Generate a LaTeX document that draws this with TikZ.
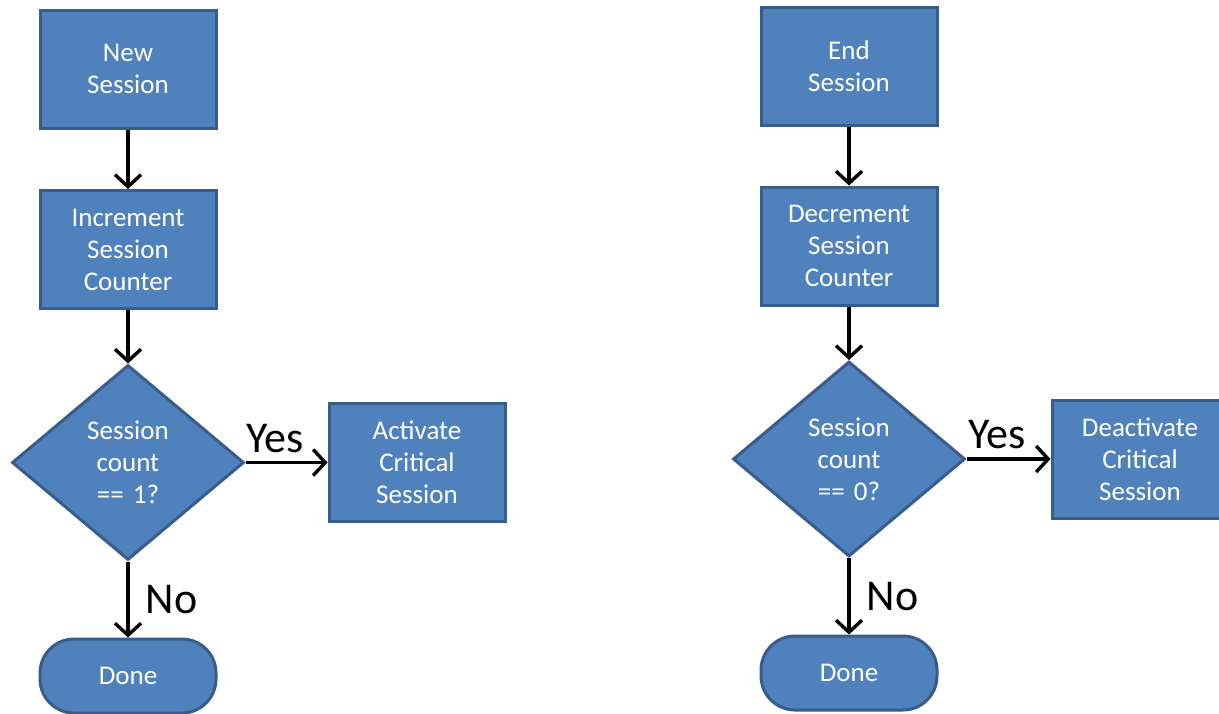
\documentclass[tikz,border=0pt]{standalone}
\usepackage{fontspec}
\setmainfont{Carlito}
\usetikzlibrary{arrows.meta,shapes.geometric}
\definecolor{boxfill}{HTML}{4F81BD}
\definecolor{boxedge}{HTML}{385D8A}
\begin{document}
\begin{tikzpicture}[x=0.5pt,y=-0.5pt,
  blk/.style={draw=boxedge, fill=boxfill, line width=1.5pt, text=white, align=center, minimum width=88pt, minimum height=59pt, inner sep=0pt, font=\fontsize{13.5}{16}\selectfont},
  decide/.style={blk, shape=diamond, aspect=1.19, minimum width=116pt, minimum height=97.5pt, text width=54pt},
  term/.style={blk, rounded corners=17pt, minimum height=37pt},
  flow/.style={line width=1.7pt, -{Straight Barb[length=6pt,width=13pt]}},
  answer/.style={font=\fontsize{22}{24}\selectfont, inner sep=2pt}]
\useasboundingbox (0,0) rectangle (1219,713);
\node[blk] (newsess) at (128,69) {New\\Session};
\node[blk] (incr) at (128,249.5) {Increment\\Session\\Counter};
\node[decide] (isone) at (128,462.5) {Session\\count\\== 1?};
\node[blk] (activ) at (417,462.5) {Activate\\Critical\\Session};
\node[term] (doneA) at (128,676) {Done};
\node[blk] (endsess) at (849,66) {End\\Session};
\node[blk] (decr) at (849,246) {Decrement\\Session\\Counter};
\node[decide] (iszero) at (849,459) {Session\\count\\== 0?};
\node[blk] (deactiv) at (1140,459) {Deactivate\\Critical\\Session};
\node[term] (doneB) at (849,673) {Done};
\draw[flow] (newsess) -- (incr);
\draw[flow] (incr) -- (isone);
\draw[flow] (isone) -- (activ) node[answer, pos=0.36, above=2pt] {Yes};
\draw[flow] (isone) -- (doneA) node[answer, midway, right=6pt] {No};
\draw[flow] (endsess) -- (decr);
\draw[flow] (decr) -- (iszero);
\draw[flow] (iszero) -- (deactiv) node[answer, pos=0.36, above=2pt] {Yes};
\draw[flow] (iszero) -- (doneB) node[answer, midway, right=6pt] {No};
\end{tikzpicture}
\end{document}
